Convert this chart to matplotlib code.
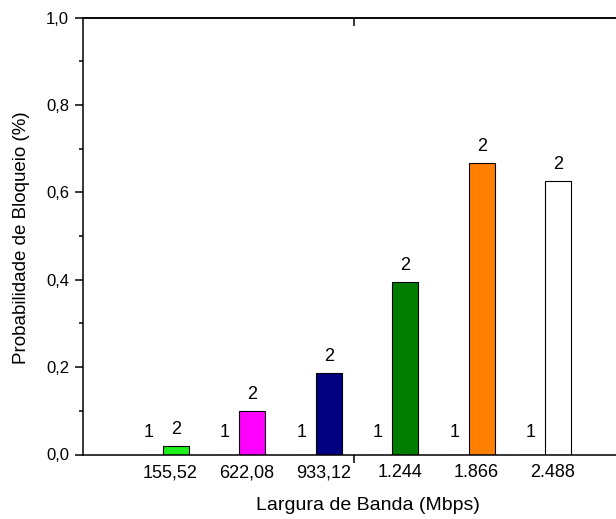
import matplotlib
matplotlib.use("Agg")
import matplotlib.pyplot as plt
import numpy as np

plt.rcParams['font.family'] = ['Liberation Sans', 'DejaVu Sans']

# Bandwidth categories and blocking probability per series
categories = ["155,52", "622,08", "933,12", "1.244", "1.866", "2.488"]
series1 = [0.0, 0.0, 0.0, 0.0, 0.0, 0.0]
series2 = [0.02, 0.10, 0.186, 0.395, 0.666, 0.626]
colors2 = ["#1ef01e", "#ff00ff", "#000080", "#007c00", "#ff8000", "#ffffff"]
yticks = [0.0, 0.2, 0.4, 0.6, 0.8, 1.0]
ytick_labels = ["0,0", "0,2", "0,4", "0,6", "0,8", "1,0"]

W, H = 616, 519
fig = plt.figure(figsize=(W / 100, H / 100), dpi=100)
ax = fig.add_axes([83 / W, (H - 454.5) / H, (625 - 83) / W, 437 / H])

x = np.arange(len(categories))
bw = 0.34
b1 = ax.bar(x - bw / 2, series1, width=bw, color="white", edgecolor="black", linewidth=0.8)
b2 = ax.bar(x + bw / 2, series2, width=bw, color=colors2, edgecolor="black", linewidth=0.8)

for xi, v in zip(x, series1):
    ax.annotate("1", (xi - bw / 2, v), xytext=(-1, 15.5), textcoords="offset points",
                ha="center", va="center", fontsize=13)
for xi, v in zip(x, series2):
    ax.annotate("2", (xi + bw / 2, v), xytext=(0, 12), textcoords="offset points",
                ha="center", va="center", fontsize=13)

ax.set_xlim(-1.04, 6.04)
ax.set_ylim(0, 1.0)

ax.set_xticks(x + 0.1)
ax.set_xticklabels(categories, fontsize=13)
ax.set_xticks([2.5], minor=True)
ax.tick_params(axis="x", which="major", length=0, pad=7)
ax.tick_params(axis="x", which="minor", direction="out", length=6, width=1.1)

ax.set_yticks(yticks)
ax.set_yticklabels(ytick_labels, fontsize=12)
ax.set_yticks(np.arange(0.1, 1.0, 0.2), minor=True)
ax.tick_params(axis="y", which="major", direction="out", length=6, width=1.1, pad=4)
ax.tick_params(axis="y", which="minor", direction="out", length=3, width=1.1)

for side in ("left", "bottom", "top"):
    ax.spines[side].set_linewidth(1.1)
ax.spines["right"].set_visible(False)

top = ax.twiny()
top.set_xlim(ax.get_xlim())
top.set_xticks([2.5])
top.set_xticklabels([])
top.tick_params(axis="x", direction="in", length=6, width=1.1)
for side in ("left", "right", "bottom"):
    top.spines[side].set_visible(False)
top.spines["top"].set_linewidth(1.1)

fig.text(368 / W, 1 - 505 / H, "Largura de Banda (Mbps)", ha="center", va="center", fontsize=14)
fig.text(22 / W, 1 - 238 / H, "Probabilidade de Bloqueio (%)", ha="center", va="center",
         rotation=90, fontsize=13.5)

fig.savefig("out.png", dpi=100)
